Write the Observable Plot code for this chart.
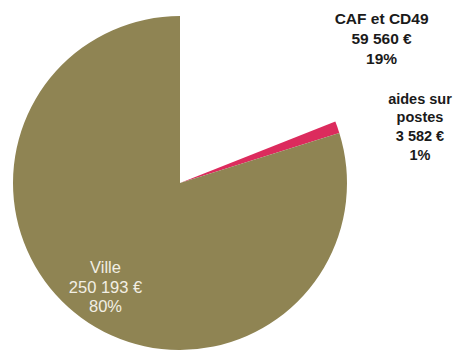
<!DOCTYPE html>
<html>
<head>
<meta charset="utf-8">
<script src="https://cdn.jsdelivr.net/npm/d3@7"></script>
<script src="https://cdn.jsdelivr.net/npm/@observablehq/plot@0.6"></script>
<style>
  html, body { margin: 0; padding: 0; background: #fff; }
  #chart svg { display: block; }
</style>
</head>
<body>
<div id="chart"></div>
<script>
// Data
const categories = ["CAF et CD49", "aides sur postes", "Ville"];
const amounts = [59560, 3582, 250193];
const amountLabels = ["59 560 €", "3 582 €", "250 193 €"];
const percentLabels = ["19%", "1%", "80%"];

// Styles / layout (not data)
const colors = ["#ffffff", "#dc2b5d", "#8f8453"];
const textColors = ["#1a1a1a", "#1a1a1a", "#f2efe4"];
const fontSizes = [15.5, 14.5, 16.5];
const fontWeights = ["bold", "bold", "normal"];
const lineHeights = [1.27, 1.3, 1.18];
const labelX = [1.204, 1.434, -0.449];
const labelY = [0.874, 0.345, -0.617];

const arcs = d3.pie().sort(null).value(d => d)(amounts);

const labels = categories.map((c, i) => ({
  text: (c === "aides sur postes" ? "aides sur\npostes" : c) + "\n" + amountLabels[i] + "\n" + percentLabels[i],
  x: labelX[i], y: labelY[i], i
}));

function pieMark(index, scales) {
  const cx = scales.x(0), cy = scales.y(0);
  const r = scales.x(1) - scales.x(0);
  const g = d3.create("svg:g").attr("transform", `translate(${cx},${cy})`);
  g.selectAll("path")
    .data(arcs)
    .join("path")
    .attr("d", d3.arc().innerRadius(0).outerRadius(r))
    .attr("fill", (d, i) => colors[i]);
  return g.node();
}

const chart = Plot.plot({
  width: 461,
  height: 353,
  marginLeft: 13,
  marginRight: 114,
  marginTop: 16,
  marginBottom: 3,
  x: {domain: [-1, 1], axis: null},
  y: {domain: [-1, 1], axis: null},
  style: {fontFamily: "'Liberation Sans', Arial, sans-serif", background: "#fff"},
  marks: [
    pieMark,
    ...labels.map(l => Plot.text([l], {
      x: "x", y: "y", text: "text",
      fill: textColors[l.i],
      fontSize: fontSizes[l.i],
      fontWeight: fontWeights[l.i],
      lineHeight: lineHeights[l.i]
    }))
  ]
});
document.getElementById("chart").appendChild(chart);
</script>
</body>
</html>
